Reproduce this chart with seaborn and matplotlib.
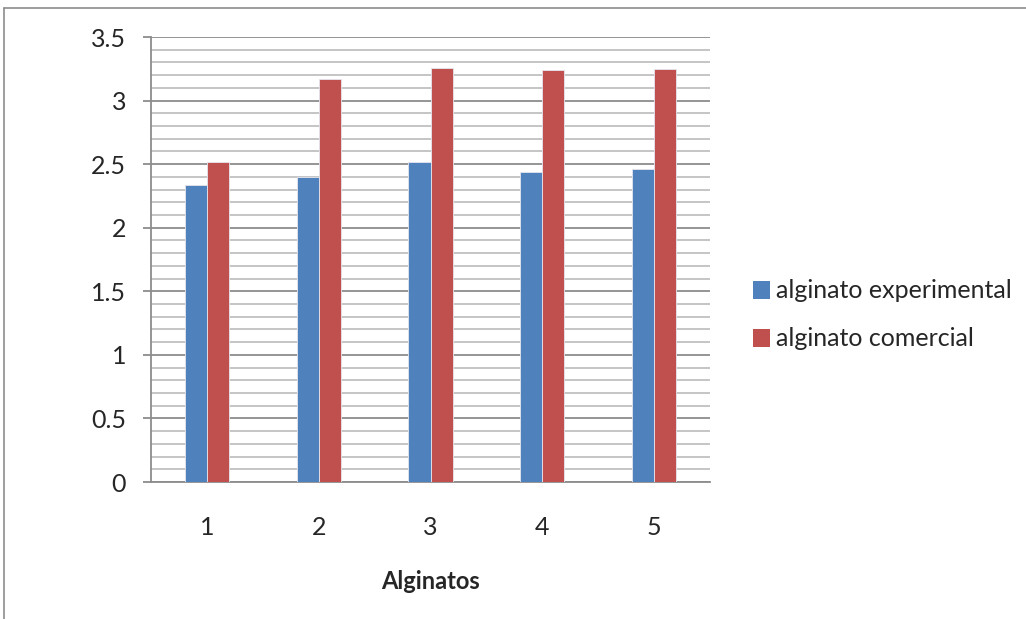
import matplotlib
matplotlib.use("Agg")
import matplotlib.pyplot as plt
from matplotlib.lines import Line2D
from matplotlib.ticker import MultipleLocator
import pandas as pd
import seaborn as sns

categorias = ["1", "2", "3", "4", "5"]
experimental = [2.34, 2.40, 2.52, 2.44, 2.46]
comercial = [2.52, 3.17, 3.26, 3.24, 3.25]
series = ["alginato experimental", "alginato comercial"]
yticks = [0, 0.5, 1, 1.5, 2, 2.5, 3, 3.5]
ytick_labels = ["0", "0.5", "1", "1.5", "2", "2.5", "3", "3.5"]

df = pd.DataFrame({
    "Alginatos": categorias * 2,
    "valor": experimental + comercial,
    "serie": [series[0]] * 5 + [series[1]] * 5,
})

sns.set_style("white")
plt.rcParams["font.family"] = ["Lato", "DejaVu Sans"]

fig = plt.figure(figsize=(10.26, 6.19), dpi=100)
ax = fig.add_axes([0.1472, 0.2213, 0.5448, 0.7189])

sns.barplot(data=df, x="Alginatos", y="valor", hue="serie",
            palette=["#4F81BD", "#C0504D"], width=0.394, saturation=1,
            edgecolor="#e6e6f0", linewidth=0.6, ax=ax, zorder=3)

ax.set_ylim(0, 3.5)
ax.set_xlim(-0.5, 4.5)
ax.set_yticks(yticks, ytick_labels)
ax.yaxis.set_minor_locator(MultipleLocator(0.1))
ax.grid(which="major", axis="y", color="#8c8c8c", linewidth=1.3, zorder=0)
ax.grid(which="minor", axis="y", color="#c0c0c0", linewidth=1.3, zorder=0)
ax.set_axisbelow(True)

for s in ["top", "right"]:
    ax.spines[s].set_visible(False)
for s in ["left", "bottom"]:
    ax.spines[s].set_color("#8c8c8c")
    ax.spines[s].set_linewidth(1.3)

ax.tick_params(axis="y", which="major", left=True, length=6, width=1.3,
               color="#8c8c8c", labelsize=18, pad=12)
ax.tick_params(axis="y", which="minor", left=False)
ax.tick_params(axis="x", bottom=False, labelsize=18, pad=21)
ax.set_ylabel("")
ax.set_xlabel("Alginatos", fontsize=17, fontweight="bold", labelpad=22)

leg = ax.legend(loc="center left", bbox_to_anchor=(740 / 1026, 1 - 315 / 619),
                bbox_transform=fig.transFigure, frameon=False,
                fontsize=18, handlelength=0.7, handleheight=0.7,
                handletextpad=0.25, labelspacing=1.0, borderpad=0)
for h in leg.legend_handles:
    h.set_edgecolor("none")

# outer chart frame
fig.add_artist(Line2D([0.004, 0.004], [0, 0.987], color="#8c8c8c", lw=1.2))
fig.add_artist(Line2D([0.004, 1.0], [0.987, 0.987], color="#8c8c8c", lw=1.2))

fig.savefig("out.png", dpi=100)
